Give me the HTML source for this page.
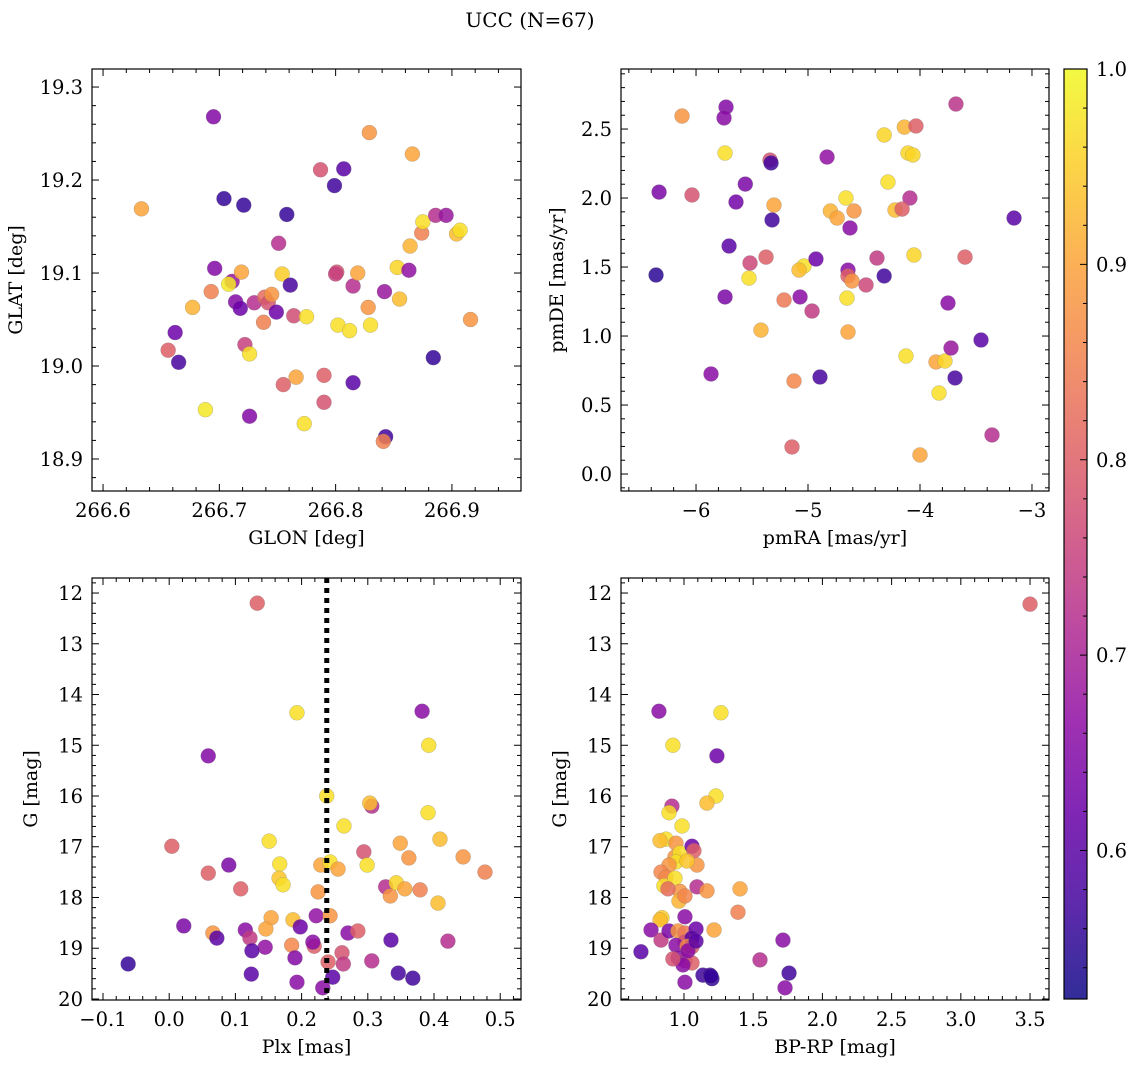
<!DOCTYPE html>
<html><head><meta charset="utf-8"><style>
html,body{margin:0;padding:0;background:#fff;}
svg{display:block;font-family:"DejaVu Serif","Liberation Serif",serif;}
</style></head><body>
<svg id="fig" width="1136" height="1068" viewBox="0 0 1136 1068" xmlns="http://www.w3.org/2000/svg">
<text x="530" y="27" font-size="20" text-anchor="middle">UCC (N=67)</text>
</svg>
<script>
// ---- Panel 1: GLON / GLAT ----
const glon=[266.633,266.695,266.704,266.721,266.758,266.829,266.866,266.787,266.807,266.799,266.751,266.696,266.711,266.719,266.708,266.677,266.693,266.714,266.718,266.730,266.739,266.742,266.745,266.749,266.754,266.761,266.738,266.764,266.775,266.801,266.800,266.815,266.819,266.802,266.812,266.828,266.830,266.842,266.853,266.855,266.863,266.864,266.874,266.875,266.886,266.895,266.904,266.907,266.916,266.884,266.662,266.656,266.665,266.688,266.726,266.722,266.726,266.755,266.766,266.790,266.790,266.773,266.815,266.843,266.841];
const glat=[19.169,19.268,19.180,19.173,19.163,19.251,19.228,19.211,19.212,19.194,19.132,19.105,19.091,19.101,19.088,19.063,19.080,19.069,19.062,19.068,19.074,19.068,19.077,19.058,19.099,19.087,19.047,19.054,19.053,19.101,19.099,19.086,19.100,19.044,19.038,19.063,19.044,19.080,19.106,19.072,19.103,19.129,19.143,19.155,19.162,19.162,19.142,19.146,19.050,19.009,19.036,19.017,19.004,18.953,18.946,19.023,19.013,18.980,18.988,18.961,18.990,18.938,18.982,18.924,18.919];
const probA=[0.90,0.65,0.56,0.56,0.56,0.88,0.90,0.78,0.60,0.57,0.72,0.65,0.68,0.90,0.98,0.92,0.85,0.65,0.62,0.72,0.82,0.78,0.88,0.62,0.95,0.58,0.85,0.77,0.97,0.78,0.75,0.72,0.90,0.97,0.97,0.88,0.97,0.68,0.96,0.93,0.67,0.92,0.85,0.97,0.72,0.68,0.93,0.97,0.88,0.56,0.62,0.80,0.58,0.98,0.65,0.75,0.97,0.80,0.90,0.78,0.80,0.97,0.60,0.57,0.85];
// ---- Panel 2: pmRA / pmDE ----
const pmra=[-6.125,-5.732,-5.75,-5.741,-5.339,-5.33,-4.83,-4.32,-4.14,-4.036,-3.679,-6.33,-6.036,-5.56,-5.643,-5.304,-5.321,-4.80,-4.74,-4.661,-4.589,-4.625,-4.286,-4.107,-4.063,-4.09,-4.223,-4.16,-3.16,-6.357,-5.705,-5.518,-5.375,-5.527,-5.741,-5.214,-5.071,-5.036,-5.08,-4.929,-4.964,-4.643,-4.643,-4.607,-4.652,-4.482,-4.384,-4.32,-4.054,-4.643,-5.42,-5.866,-4.893,-5.125,-4.125,-3.857,-3.777,-3.75,-3.723,-3.83,-3.687,-3.455,-3.598,-4.0,-5.143,-3.357];
const pmde=[2.594,2.659,2.58,2.326,2.275,2.254,2.297,2.457,2.514,2.522,2.681,2.043,2.022,2.101,1.971,1.949,1.841,1.906,1.855,2.0,1.906,1.783,2.116,2.326,2.312,2.0,1.913,1.92,1.855,1.442,1.652,1.529,1.572,1.42,1.283,1.261,1.283,1.507,1.478,1.558,1.181,1.478,1.435,1.399,1.275,1.37,1.565,1.435,1.587,1.029,1.043,0.725,0.703,0.674,0.855,0.812,0.819,1.239,0.913,0.587,0.696,0.971,1.572,0.138,0.196,0.283];
const probB=[0.88,0.65,0.66,0.97,0.78,0.57,0.67,0.96,0.92,0.80,0.73,0.64,0.78,0.64,0.63,0.90,0.57,0.92,0.90,0.97,0.88,0.66,0.97,0.96,0.96,0.72,0.93,0.80,0.60,0.55,0.60,0.76,0.80,0.97,0.64,0.84,0.66,0.97,0.93,0.62,0.74,0.66,0.80,0.88,0.97,0.76,0.74,0.57,0.96,0.90,0.92,0.66,0.58,0.86,0.97,0.90,0.96,0.66,0.68,0.97,0.58,0.60,0.80,0.90,0.80,0.72];
// ---- Panel 3: Plx / G ----
const plx=[0.133,0.193,0.382,0.392,0.059,0.238,0.306,0.303,0.391,0.264,0.004,0.151,0.349,0.409,0.444,0.477,0.090,0.059,0.167,0.166,0.172,0.229,0.243,0.255,0.294,0.299,0.362,0.108,0.327,0.334,0.343,0.356,0.379,0.406,0.225,0.154,0.187,0.222,0.243,0.022,0.066,0.072,0.115,0.122,0.146,0.145,0.185,0.198,0.219,0.217,0.270,0.285,0.335,0.421,0.125,0.190,0.261,0.263,0.240,0.306,-0.062,0.124,0.193,0.247,0.346,0.368,0.232];
const gmagA=[12.20,14.36,14.33,15.0,15.21,16.0,16.2,16.14,16.33,16.59,16.99,16.89,16.93,16.85,17.2,17.5,17.36,17.52,17.34,17.62,17.75,17.36,17.3,17.44,17.1,17.36,17.22,17.83,17.79,17.97,17.71,17.83,17.85,18.11,17.89,18.4,18.44,18.36,18.36,18.56,18.7,18.8,18.64,18.8,18.62,18.98,18.94,18.58,18.96,18.88,18.7,18.66,18.84,18.86,19.05,19.19,19.09,19.31,19.27,19.25,19.31,19.51,19.67,19.57,19.49,19.59,19.78];
const probC=[0.80,0.97,0.66,0.97,0.65,0.97,0.72,0.93,0.97,0.97,0.80,0.97,0.90,0.93,0.88,0.85,0.64,0.80,0.97,0.94,0.97,0.90,0.97,0.90,0.78,0.97,0.88,0.80,0.72,0.88,0.96,0.90,0.85,0.93,0.88,0.90,0.93,0.67,0.88,0.64,0.88,0.60,0.66,0.74,0.90,0.67,0.86,0.62,0.80,0.66,0.66,0.80,0.60,0.72,0.60,0.65,0.78,0.74,0.80,0.72,0.56,0.60,0.66,0.60,0.58,0.57,0.66];
const plxLine=[0.238];
// ---- Panel 4: BP-RP / G ----
const bprp=[3.5,1.267,0.819,0.92,1.238,1.231,0.913,1.166,0.892,0.986,0.87,0.827,0.942,0.935,0.971,1.058,1.072,1.094,0.942,1.022,0.892,0.834,0.87,0.855,0.935,0.971,0.884,1.094,1.166,1.405,0.964,1.007,1.39,0.841,1.007,0.827,0.762,0.834,0.892,0.957,1.007,1.087,1.217,1.007,1.058,0.942,1.022,1.058,0.689,0.957,1.007,1.058,0.993,0.92,1.029,1.087,1.549,1.715,1.007,1.137,1.188,1.202,1.759,1.73,1.195];
const gmagB=[12.22,14.36,14.33,15.0,15.21,16.0,16.2,16.14,16.33,16.59,16.85,16.88,16.93,17.2,17.12,16.99,17.08,17.36,17.3,17.28,17.36,17.5,17.6,17.77,17.62,17.88,17.83,17.79,17.87,17.83,18.07,17.97,18.29,18.4,18.38,18.44,18.64,18.84,18.66,18.66,18.7,18.62,18.64,18.88,18.8,18.94,18.96,18.97,19.07,19.19,19.25,19.29,19.33,19.21,19.05,18.86,19.23,18.84,19.67,19.53,19.53,19.6,19.49,19.78,19.55];
const probD=[0.80,0.97,0.66,0.97,0.62,0.97,0.72,0.93,0.97,0.97,0.97,0.93,0.88,0.88,0.97,0.62,0.80,0.88,0.97,0.94,0.88,0.86,0.86,0.97,0.97,0.88,0.82,0.72,0.88,0.90,0.92,0.86,0.85,0.95,0.66,0.93,0.66,0.74,0.64,0.88,0.84,0.62,0.90,0.78,0.60,0.66,0.86,0.80,0.60,0.66,0.72,0.80,0.66,0.78,0.66,0.60,0.72,0.66,0.66,0.57,0.57,0.56,0.57,0.66,0.56];
const cbTicks=[0.6,0.7,0.8,0.9,1.0];
const vmin=0.524, vmax=1.0;

const NS="http://www.w3.org/2000/svg";
const svg=document.getElementById('fig');
const stops=["#0d0887","#41049d","#6a00a8","#8f0da4","#b12a90","#cc4778","#e16462","#f2844b","#fca636","#fcce25","#f0f921"];
function hex(h){return [parseInt(h.substr(1,2),16),parseInt(h.substr(3,2),16),parseInt(h.substr(5,2),16)];}
function plasma(t){t=Math.max(0,Math.min(1,t));const f=t*10,i=Math.min(9,Math.floor(f)),r=f-i;const a=hex(stops[i]),b=hex(stops[i+1]);return 'rgb('+a.map((v,k)=>Math.round(v+(b[k]-v)*r)).join(',')+')';}
function cmap(p){return plasma((p-vmin)/(vmax-vmin));}
function mk(tag,attrs,parent){const e=document.createElementNS(NS,tag);for(const k in attrs)e.setAttribute(k,attrs[k]);(parent||svg).appendChild(e);return e;}
function fmt(v,d){const s=Math.abs(v).toFixed(d);return (v< -1e-9?'\u2212':'')+s;}
const TF=19.5, LF=19;

function panel(o){
  const g=mk('g',{});
  
  
  const X=v=>o.x0+(v-o.xl[0])/(o.xl[1]-o.xl[0])*(o.x1-o.x0);
  const Y=o.inv? v=>o.y0+(v-o.yl[0])/(o.yl[1]-o.yl[0])*(o.y1-o.y0) : v=>o.y1-(v-o.yl[0])/(o.yl[1]-o.yl[0])*(o.y1-o.y0);
  for(let i=0;i<o.xs.length;i++){
    const c=mk('circle',{cx:X(o.xs[i]),cy:Y(o.ys[i]),r:7.5,fill:cmap(o.cs[i]),'fill-opacity':0.85,stroke:'#777','stroke-width':0.4,'stroke-opacity':0.6},g);
    
    
  }
  if(o.vline){for(const v of o.vline){const l=mk('line',{x1:X(v),x2:X(v),y1:o.y0,y2:o.y1,stroke:'#000','stroke-width':5,'stroke-dasharray':'5,5'},g);
    
    }}
  const f=mk('rect',{x:o.x0,y:o.y0,width:o.x1-o.x0,height:o.y1-o.y0,fill:'none',stroke:'#000','stroke-width':1.2},g);
  
  
  for(let k=Math.ceil(o.xl[0]/o.xmin-1e-6);k*o.xmin<=o.xl[1]+1e-9;k++){
    const v=k*o.xmin,px=X(v);
    const maj=Math.abs(v/o.xmaj-Math.round(v/o.xmaj))<1e-6;const L=maj?7:4;
    mk('line',{x1:px,x2:px,y1:o.y1,y2:o.y1-L,stroke:'#000','stroke-width':1},g);
    mk('line',{x1:px,x2:px,y1:o.y0,y2:o.y0+L,stroke:'#000','stroke-width':1},g);
    if(maj){const t=mk('text',{x:px,y:o.y1+26,'font-size':TF,'text-anchor':'middle'},g);t.textContent=fmt(v,o.xd);
      }
  }
  for(let k=Math.ceil(o.yl[0]/o.ymin-1e-6);k*o.ymin<=o.yl[1]+1e-9;k++){
    const v=k*o.ymin,py=Y(v);
    const maj=Math.abs(v/o.ymaj-Math.round(v/o.ymaj))<1e-6;const L=maj?7:4;
    mk('line',{x1:o.x0,x2:o.x0+L,y1:py,y2:py,stroke:'#000','stroke-width':1},g);
    mk('line',{x1:o.x1,x2:o.x1-L,y1:py,y2:py,stroke:'#000','stroke-width':1},g);
    if(maj){const t=mk('text',{x:o.x0-9,y:py+7,'font-size':TF,'text-anchor':'end'},g);t.textContent=fmt(v,o.yd);
      }
  }
  const xt=mk('text',{x:(o.x0+o.x1)/2,y:o.y1+53,'font-size':LF,'text-anchor':'middle'},g);xt.textContent=o.xlab;
  
  const yx=o.x0-o.ylOff,yy=(o.y0+o.y1)/2;
  const yt=mk('text',{x:yx,y:yy,'font-size':LF,'text-anchor':'middle',transform:'rotate(-90 '+yx+' '+yy+')'},g);yt.textContent=o.ylab;
  
}

panel({name:'glon-glat-panel',x0:92,x1:521,y0:69,y1:491,xl:[266.5905,266.9594],yl:[18.8656,19.3194],xs:glon,ys:glat,cs:probA,xmaj:0.1,xmin:0.02,ymaj:0.1,ymin:0.02,xd:1,yd:1,xlab:'GLON [deg]',ylab:'GLAT [deg]',ylOff:70});
panel({name:'pm-panel',x0:621,x1:1049,y0:69,y1:491,xl:[-6.670,-2.848],yl:[-0.123,2.935],xs:pmra,ys:pmde,cs:probB,xmaj:1,xmin:0.2,ymaj:0.5,ymin:0.1,xd:0,yd:1,xlab:'pmRA [mas/yr]',ylab:'pmDE [mas/yr]',ylOff:58});
panel({name:'plx-g-panel',x0:92,x1:521,y0:578,y1:1000,xl:[-0.1166,0.5314],yl:[11.704,20.02],inv:true,xs:plx,ys:gmagA,cs:probC,xmaj:0.1,xmin:0.02,ymaj:1,ymin:0.2,xd:1,yd:0,xlab:'Plx [mas]',ylab:'G [mag]',ylOff:55,vline:plxLine});
panel({name:'cmd-panel',x0:621,x1:1049,y0:578,y1:1000,xl:[0.545,3.637],yl:[11.704,20.02],inv:true,xs:bprp,ys:gmagB,cs:probD,xmaj:0.5,xmin:0.1,ymaj:1,ymin:0.2,xd:1,yd:0,xlab:'BP-RP [mag]',ylab:'G [mag]',ylOff:55});

const cb=mk('g',{});


const defs=mk('defs',{},cb);
const lg=mk('linearGradient',{id:'pl',x1:0,y1:1,x2:0,y2:0},defs);
for(let i=0;i<=20;i++){mk('stop',{offset:i/20,'stop-color':plasma(i/20),'stop-opacity':0.85},lg);}
const cbx0=1064,cbx1=1087,cby0=69,cby1=999;
mk('rect',{x:cbx0,y:cby0,width:cbx1-cbx0,height:cby1-cby0,fill:'url(#pl)',stroke:'#000','stroke-width':1.2},cb);
const CY=v=>cby1-(v-vmin)/(vmax-vmin)*(cby1-cby0);
for(let v=0.54;v<=1.0001;v+=0.02){const py=CY(v);const maj=cbTicks.some(t=>Math.abs(t-v)<1e-6);
  mk('line',{x1:cbx1,x2:cbx1-(maj?7:4),y1:py,y2:py,stroke:'#000','stroke-width':1},cb);}
for(const t of cbTicks){const tx=mk('text',{x:cbx1+9,y:CY(t)+7,'font-size':TF},cb);tx.textContent=t.toFixed(1);
  }
</script>
</body></html>
